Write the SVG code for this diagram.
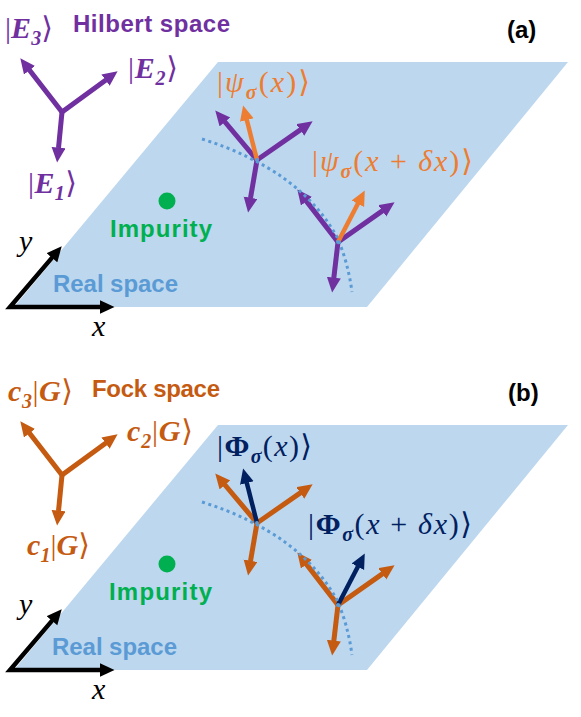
<svg xmlns="http://www.w3.org/2000/svg" width="581" height="717" viewBox="0 0 581 717">
<style>
.plane{fill:#bdd7ee}
.lbl{font-family:"Liberation Sans","Noto Sans",sans-serif;font-weight:bold;font-size:24px}
.m{font-family:"Liberation Serif","DejaVu Serif","DejaVu Sans",serif;font-size:30px}
.i{font-style:italic}
.bi{font-style:italic;font-weight:bold}
.sub{font-size:20px;font-style:italic;font-weight:bold}
.dot{fill:none;stroke:#5b9bd5;stroke-width:3;stroke-dasharray:3 3.5}
.arm{fill:none;stroke-width:5;stroke-linejoin:miter}
.pu{stroke:#7030a0}
.br{stroke:#c55a11}
.or{stroke:#ed7d31;stroke-width:4.5}
.nv{stroke:#002060;stroke-width:4.5}
.ax{fill:none;stroke:#000;stroke-width:4.5;stroke-linejoin:miter}
</style>
<defs>
<marker id="hPu" markerUnits="userSpaceOnUse" markerWidth="16" markerHeight="15" refX="0.5" refY="7" orient="auto-start-reverse"><path d="M0,0 L15,7 L0,14 z" fill="#7030a0"/></marker>
<marker id="hBr" markerUnits="userSpaceOnUse" markerWidth="16" markerHeight="15" refX="0.5" refY="7" orient="auto-start-reverse"><path d="M0,0 L15,7 L0,14 z" fill="#c55a11"/></marker>
<marker id="hOr" markerUnits="userSpaceOnUse" markerWidth="16" markerHeight="15" refX="0.5" refY="7" orient="auto-start-reverse"><path d="M0,0 L15,7 L0,14 z" fill="#ed7d31"/></marker>
<marker id="hNv" markerUnits="userSpaceOnUse" markerWidth="16" markerHeight="15" refX="0.5" refY="7" orient="auto-start-reverse"><path d="M0,0 L15,7 L0,14 z" fill="#002060"/></marker>
<marker id="hBk" markerUnits="userSpaceOnUse" markerWidth="16" markerHeight="15" refX="0.5" refY="7" orient="auto-start-reverse"><path d="M0,0 L15,7 L0,14 z" fill="#000"/></marker>
</defs>

<!-- ===== Panel (a) ===== -->
<g id="planeA"><polygon class="plane" points="218,62 568,62 367,307 14,307"/></g>
<g id="labelA"><text class="lbl" x="507" y="38" font-size="27">(a)</text></g>
<g id="hilbertTitle"><text class="lbl" x="73" y="32" fill="#7030a0" textLength="157">Hilbert space</text></g>
<g id="impurityA">
<circle cx="167" cy="201" r="8.5" fill="#00b050"/>
<text class="lbl" x="110" y="237" fill="#00b050" textLength="102">Impurity</text>
</g>
<g id="realspaceA"><text class="lbl" x="53" y="292" fill="#5b9bd5" textLength="125">Real space</text></g>

<g id="hilbertBasis">
<g class="arm pu">
<path d="M29.2,69.8 L62,112 L105.9,79.9" marker-start="url(#hPu)" marker-end="url(#hPu)"/>
<path d="M62,112 L58.5,148.1" marker-end="url(#hPu)"/>
</g>
<text class="m" x="5" y="38" fill="#7030a0" textLength="48">|<tspan class="bi">E</tspan><tspan class="sub" dy="7">3</tspan><tspan dy="-7">⟩</tspan></text>
<text class="m" x="128" y="78" fill="#7030a0" textLength="50">|<tspan class="bi">E</tspan><tspan class="sub" dy="7">2</tspan><tspan dy="-7">⟩</tspan></text>
<text class="m" x="28" y="193" fill="#7030a0" textLength="49">|<tspan class="bi">E</tspan><tspan class="sub" dy="7">1</tspan><tspan dy="-7">⟩</tspan></text>
</g>

<g id="connectorsA">
<g id="frameA1" class="arm pu">
<path d="M224.6,121.5 L257,160 L300.7,129.6" marker-start="url(#hPu)" marker-end="url(#hPu)"/>
<path d="M257,160 L250.5,198.2" marker-end="url(#hPu)"/>
<path class="or" d="M257,160 L246.7,119.5" marker-end="url(#hOr)"/>
</g>
<g id="frameA2" class="arm pu">
<path d="M306.2,200.9 L338,242 L382.7,210.6" marker-start="url(#hPu)" marker-end="url(#hPu)"/>
<path d="M338,242 L333.8,278.1" marker-end="url(#hPu)"/>
<path class="or" d="M338,242 L358.1,203.3" marker-end="url(#hOr)"/>
</g>
<path class="dot" d="M202,139 Q300,170 337,237 Q348,262 352,292"/>
<circle cx="257" cy="160" r="2" fill="#5b9bd5"/>
<circle cx="338" cy="242" r="2" fill="#5b9bd5"/>
<path class="ax" d="M52.3,257.4 L10,307 L100,307" marker-start="url(#hBk)" marker-end="url(#hBk)"/>
</g>
<g id="psiA">
<text class="m" x="217" y="92" fill="#ed7d31" textLength="93">|<tspan class="i">ψ</tspan><tspan class="sub" dy="7">σ</tspan><tspan dy="-7">(</tspan><tspan class="i">x</tspan>)⟩</text>
</g>
<g id="psiA2">
<text class="m" x="312" y="171" fill="#ed7d31" textLength="161">|<tspan class="i">ψ</tspan><tspan class="sub" dy="7">σ</tspan><tspan dy="-7">(</tspan><tspan class="i">x</tspan> + <tspan class="i">δx</tspan>)⟩</text>
</g>
<g id="axisLabelsA">
<text class="m i" x="19" y="251" font-size="31">y</text>
<text class="m i" x="92" y="336" font-size="31">x</text>
</g>

<!-- ===== Panel (b) ===== -->
<g id="planeB"><polygon class="plane" points="218,62 568,62 367,307 14,307" transform="translate(0,363)"/></g>
<g id="labelB"><text class="lbl" x="508" y="401" font-size="27">(b)</text></g>
<g id="fockTitle"><text class="lbl" x="92" y="397" fill="#c55a11" textLength="128">Fock space</text></g>
<g id="impurityB">
<circle cx="167" cy="564" r="8.5" fill="#00b050"/>
<text class="lbl" x="109" y="600" fill="#00b050" textLength="103">Impurity</text>
</g>
<g id="realspaceB"><text class="lbl" x="52" y="655" fill="#5b9bd5" textLength="125">Real space</text></g>

<g id="fockBasis">
<g class="arm br" transform="translate(0,363)">
<path d="M29.2,69.8 L62,112 L105.9,79.9" marker-start="url(#hBr)" marker-end="url(#hBr)"/>
<path d="M62,112 L58.5,148.1" marker-end="url(#hBr)"/>
</g>
<text class="m" x="8" y="401" fill="#c55a11" textLength="65"><tspan class="bi">c</tspan><tspan class="sub" dy="7">3</tspan><tspan dy="-7">|</tspan><tspan class="bi">G</tspan>⟩</text>
<text class="m" x="127" y="441" fill="#c55a11" textLength="66"><tspan class="bi">c</tspan><tspan class="sub" dy="7">2</tspan><tspan dy="-7">|</tspan><tspan class="bi">G</tspan>⟩</text>
<text class="m" x="27" y="555" fill="#c55a11" textLength="63"><tspan class="bi">c</tspan><tspan class="sub" dy="7">1</tspan><tspan dy="-7">|</tspan><tspan class="bi">G</tspan>⟩</text>
</g>

<g id="connectorsB" transform="translate(0,363)">
<g id="frameB1" class="arm br">
<path d="M224.6,121.5 L257,160 L300.7,129.6" marker-start="url(#hBr)" marker-end="url(#hBr)"/>
<path d="M257,160 L250.5,198.2" marker-end="url(#hBr)"/>
<path class="nv" d="M257,160 L246.7,119.5" marker-end="url(#hNv)"/>
</g>
<g id="frameB2" class="arm br">
<path d="M306.2,200.9 L338,242 L382.7,210.6" marker-start="url(#hBr)" marker-end="url(#hBr)"/>
<path d="M338,242 L333.8,278.1" marker-end="url(#hBr)"/>
<path class="nv" d="M338,242 L358.1,203.3" marker-end="url(#hNv)"/>
</g>
<path class="dot" d="M202,139 Q300,170 337,237 Q348,262 352,292"/>
<circle cx="257" cy="160" r="2" fill="#5b9bd5"/>
<circle cx="338" cy="242" r="2" fill="#5b9bd5"/>
<path class="ax" d="M52.3,257.4 L10,307 L100,307" marker-start="url(#hBk)" marker-end="url(#hBk)"/>
</g>
<g id="phiB">
<text class="m" x="217" y="456" fill="#002060" textLength="95">|<tspan font-weight="bold">Φ</tspan><tspan class="sub" dy="7">σ</tspan><tspan dy="-7">(</tspan><tspan class="i">x</tspan>)⟩</text>
</g>
<g id="phiB2">
<text class="m" x="308" y="534" fill="#002060" textLength="164">|<tspan font-weight="bold">Φ</tspan><tspan class="sub" dy="7">σ</tspan><tspan dy="-7">(</tspan><tspan class="i">x</tspan> + <tspan class="i">δx</tspan>)⟩</text>
</g>
<g id="axisLabelsB">
<text class="m i" x="19" y="614" font-size="31">y</text>
<text class="m i" x="92" y="699" font-size="31">x</text>
</g>
</svg>
